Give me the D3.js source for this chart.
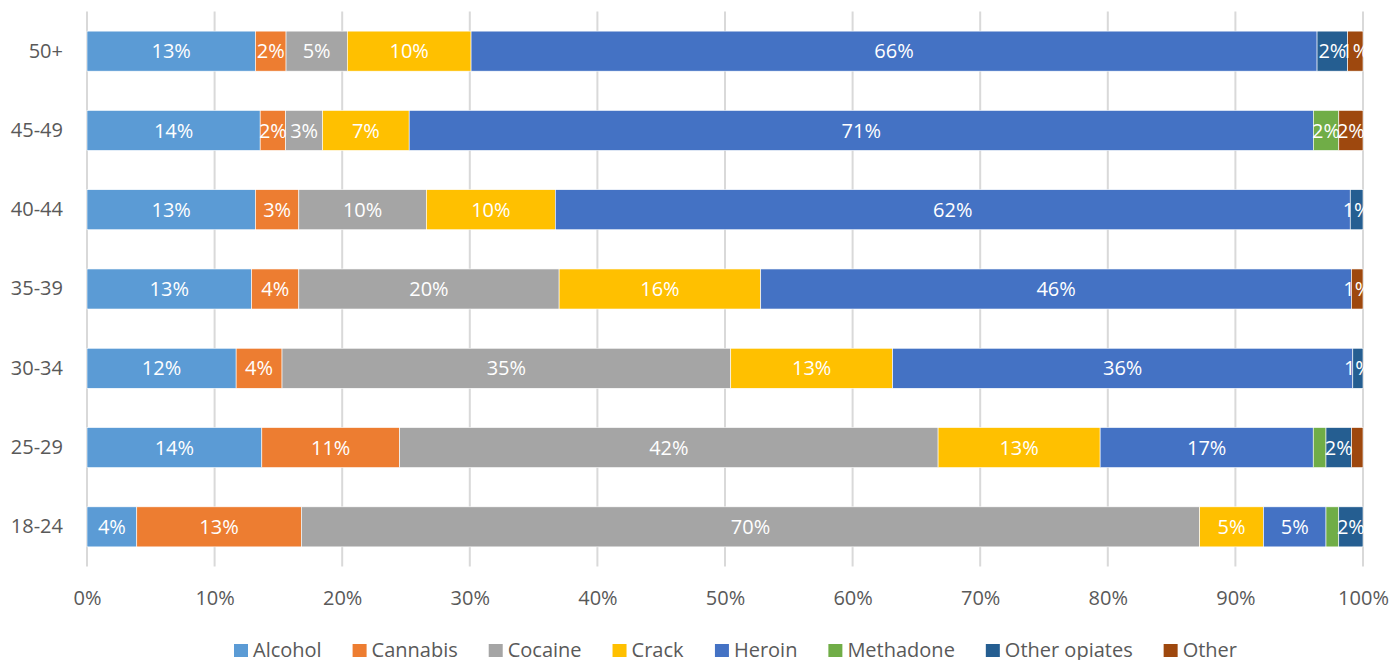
<!DOCTYPE html>
<html>
<head>
<meta charset="utf-8">
<script src="https://cdn.jsdelivr.net/npm/d3@7"></script>
<style>
  body { margin: 0; background: #fff; font-family: "Open Sans", sans-serif; }
  #chart { width: 1392px; height: 660px; overflow: hidden; }
  .axis text { fill: #595959; font-size: 20px; font-family: "Open Sans", sans-serif; }
</style>
</head>
<body>
<div id="chart"></div>
<script>
// age groups, top to bottom
const categories = ["50+", "45-49", "40-44", "35-39", "30-34", "25-29", "18-24"]
const seriesNames = ["Alcohol", "Cannabis", "Cocaine", "Crack", "Heroin", "Methadone", "Other opiates", "Other"]
const colors = ["#5B9BD5", "#ED7D31", "#A5A5A5", "#FFC000", "#4472C4", "#70AD47", "#255E91", "#9E480E"]

// percentage shares
const alcohol      = [13.2, 13.6, 13.2, 12.9, 11.7, 13.7, 3.9]
const cannabis     = [2.4, 2.0, 3.4, 3.7, 3.6, 10.8, 12.9]
const cocaine      = [4.8, 2.9, 10.0, 20.4, 35.2, 42.2, 70.4]
const crack        = [9.7, 6.8, 10.1, 15.8, 12.7, 12.7, 5.0]
const heroin       = [66.3, 71.0, 62.3, 46.3, 36.1, 16.7, 4.9]
const methadone    = [0, 2.0, 0, 0, 0, 1.0, 1.0]
const otherOpiates = [2.4, 0, 1.0, 0, 0.8, 2.0, 1.9]
const other        = [1.2, 1.9, 0, 0.9, 0, 0.9, 0]

// labels that the original leaves out
const hiddenLabels = ["25-29|Methadone", "25-29|Other", "18-24|Methadone"]

const xTicks = [0, 0.1, 0.2, 0.3, 0.4, 0.5, 0.6, 0.7, 0.8, 0.9, 1]

const seriesValues = [alcohol, cannabis, cocaine, crack, heroin, methadone, otherOpiates, other]
const rows = categories.map((c, i) => {
    let r = {category: c}
    seriesNames.forEach((s, j) => { r[s] = seriesValues[j][i] })
    return r
})

const width = 1392, height = 660
const margin = {top: 11.5, right: 29, bottom: 93.5, left: 87}

const svg = d3.select("#chart").append("svg")
    .attr("width", width)
    .attr("height", height)

const x = d3.scaleLinear()
    .domain([0, 1])
    .range([margin.left, width - margin.right])

const y = d3.scaleBand()
    .domain(categories)
    .range([margin.top, height - margin.bottom])
    .paddingInner(0.495)
    .paddingOuter(0.2475)

// vertical gridlines
svg.append("g")
    .selectAll("line")
    .data(xTicks)
    .join("line")
    .attr("x1", d => x(d))
    .attr("x2", d => x(d))
    .attr("y1", margin.top)
    .attr("y2", height - margin.bottom)
    .attr("stroke", "#d9d9d9")
    .attr("stroke-width", 2)

// x axis labels
const xAxis = d3.axisBottom(x)
    .tickValues(xTicks)
    .tickFormat(d3.format(".0%"))
    .tickSize(0)
    .tickPadding(24)

svg.append("g")
    .attr("class", "axis")
    .attr("transform", `translate(0, ${height - margin.bottom})`)
    .call(xAxis)
    .call(g => g.select(".domain").remove())

// y axis labels
const yAxis = d3.axisLeft(y).tickSize(0).tickPadding(24)
svg.append("g")
    .attr("class", "axis")
    .attr("transform", `translate(${margin.left}, 0)`)
    .call(yAxis)
    .call(g => g.select(".domain").remove())

// stacked bars
const stack = d3.stack()
    .keys(seriesNames)
    .offset(d3.stackOffsetExpand)
const stacked = stack(rows)

svg.append("defs").append("clipPath")
    .attr("id", "plot-clip")
    .append("rect")
    .attr("x", margin.left)
    .attr("y", 0)
    .attr("width", x(1) - margin.left + 1)
    .attr("height", height)

const layers = svg.append("g")
    .selectAll("g")
    .data(stacked)
    .join("g")
    .attr("fill", (d, i) => colors[i])

layers.selectAll("rect")
    .data(d => d)
    .join("rect")
    .attr("x", d => x(d[0]))
    .attr("y", d => y(d.data.category))
    .attr("width", d => x(d[1]) - x(d[0]))
    .attr("height", y.bandwidth())
    .attr("stroke", "#fff")
    .attr("stroke-width", 0.6)

// data labels (clipped at the right edge like the original)
const labelGroup = svg.append("g").attr("clip-path", "url(#plot-clip)")
stacked.forEach(layer => {
    labelGroup.selectAll(null)
        .data(layer.filter(d => d[1] - d[0] > 0 && !hiddenLabels.includes(d.data.category + "|" + layer.key)))
        .join("text")
        .attr("x", d => x((d[0] + d[1]) / 2))
        .attr("y", d => y(d.data.category) + y.bandwidth() / 2)
        .attr("dy", "0.36em")
        .attr("text-anchor", "middle")
        .attr("fill", "#fff")
        .style("font-size", "20px")
        .text(d => Math.round((d[1] - d[0]) * 100) + "%")
})

// legend
const legend = svg.append("g").attr("transform", `translate(0, 657)`)
const items = legend.selectAll("g")
    .data(seriesNames)
    .join("g")

items.append("rect")
    .attr("width", 14)
    .attr("height", 13)
    .attr("y", -13)
    .attr("fill", (d, i) => colors[i])

items.append("text")
    .attr("x", 19)
    .attr("y", 0)
    .attr("fill", "#595959")
    .style("font-size", "20px")
    .text(d => d)

let widths = []
items.each(function() { widths.push(this.getBBox().width) })
const legendLeft = 234, legendRight = 1237
const gap = (legendRight - legendLeft - d3.sum(widths)) / (widths.length - 1)
let pos = legendLeft
items.attr("transform", (d, i) => {
    let t = `translate(${pos}, 0)`
    pos += widths[i] + gap
    return t
})
</script>
</body>
</html>
